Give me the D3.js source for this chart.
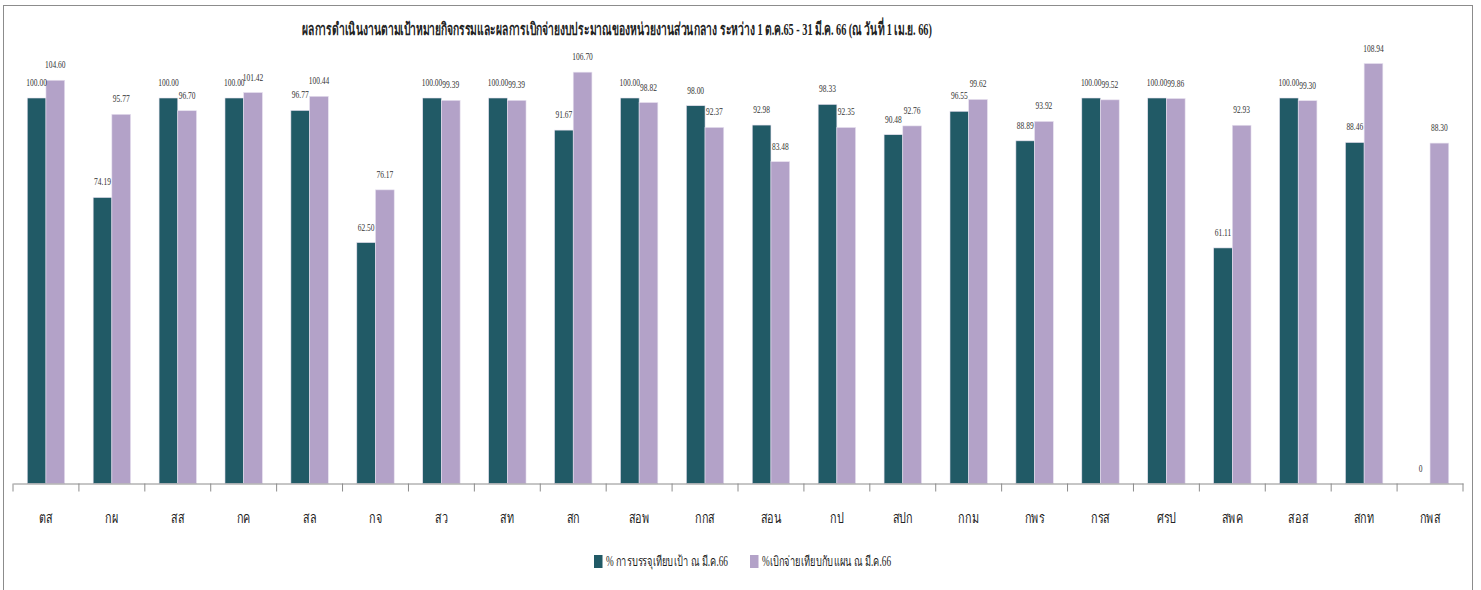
<!DOCTYPE html>
<html>
<head>
<meta charset="utf-8">
<script src="https://cdn.jsdelivr.net/npm/d3@7"></script>
<style>
  body { margin: 0; background: #fff; }
  text { font-family: "Liberation Serif", "Noto Sans", serif; fill: #222; }
</style>
</head>
<body>
<div id="chart"></div>
<script>
const categories = ["ตส", "กผ", "สส", "กค", "สล", "กจ", "สว", "สท", "สก", "สอพ", "กกส",
  "สอน", "กป", "สปก", "กกม", "กพร", "กรส", "ศรป", "สพค", "สอส", "สกท", "กพส"];
const recruit = [100.00, 74.19, 100.00, 100.00, 96.77, 62.50, 100.00, 100.00, 91.67, 100.00, 98.00,
  92.98, 98.33, 90.48, 96.55, 88.89, 100.00, 100.00, 61.11, 100.00, 88.46, 0];
const spend = [104.60, 95.77, 96.70, 101.42, 100.44, 76.17, 99.39, 99.39, 106.70, 98.82, 92.37,
  83.48, 92.35, 92.76, 99.62, 93.92, 99.52, 99.86, 92.93, 99.30, 108.94, 88.30];
const seriesNames = ["% การบรรจุเทียบเป้า ณ มี.ค.66", "%เบิกจ่ายเทียบกับแผน ณ มี.ค.66"];
const colors = ["#215A66", "#B3A2C8"];
const title = "ผลการดำเนินงานตามเป้าหมายกิจกรรมและผลการเบิกจ่ายงบประมาณของหน่วยงานส่วนกลาง ระหว่าง 1 ต.ค.65 - 31 มี.ค. 66 (ณ วันที่ 1 เม.ย. 66)";

const width = 1481, height = 590;
const sx = 0.72; // chart text is horizontally squeezed

const svg = d3.select("#chart").append("svg")
    .attr("width", width)
    .attr("height", height);

// outer frame
svg.append("rect")
    .attr("x", 3.5).attr("y", 5.5)
    .attr("width", 1469).attr("height", 620)
    .attr("fill", "none")
    .attr("stroke", "#8c8c8c");

const x0 = d3.scaleBand()
    .domain(categories)
    .range([13, 1463])
    .paddingInner(0)
    .paddingOuter(0);

const x1 = d3.scaleBand()
    .domain([0, 1])
    .range([x0.bandwidth() / 2 - 18.7, x0.bandwidth() / 2 + 18.7]);

const y = d3.scaleLinear()
    .domain([0, 100])
    .range([483.5, 98]);

function squeezed(sel, px, py, s) {
  return sel.attr("transform", `translate(${px},${py}) scale(${s},1)`);
}

// title
squeezed(svg.append("text"), 617, 35, 0.605)
    .attr("text-anchor", "middle")
    .style("font-size", "17px")
    .style("font-weight", "bold")
    .text(title);

const data = categories.map((c, i) => ({ cat: c, vals: [recruit[i], spend[i]] }));

const groups = svg.selectAll("g.cat")
    .data(data)
    .enter()
    .append("g")
    .attr("class", "cat")
    .attr("transform", d => `translate(${x0(d.cat)},0)`);

groups.selectAll("rect")
    .data(d => d.vals.map((v, k) => ({ k: k, v: v })))
    .enter()
    .append("rect")
    .attr("x", d => x1(d.k))
    .attr("width", x1.bandwidth())
    .attr("y", d => y(d.v))
    .attr("height", d => y(0) - y(d.v))
    .attr("fill", d => colors[d.k])
    .attr("stroke", "#e6e0ee")
    .attr("stroke-width", 0.6);

groups.selectAll("text.val")
    .data(d => d.vals.map((v, k) => ({ k: k, v: v })))
    .enter()
    .append("text")
    .attr("class", "val")
    .attr("text-anchor", "middle")
    .style("font-size", "11px")
    .style("fill", "#333")
    .attr("transform", d => `translate(${x1(d.k) + x1.bandwidth() / 2},${y(d.v) - 12}) scale(0.68,1)`)
    .text(d => d.v === 0 ? "0" : d.v.toFixed(2));

// x axis
const xAxis = d3.axisBottom(x0).tickSize(0).tickFormat("");
const ax = svg.append("g")
    .attr("transform", `translate(0,${y(0)})`)
    .call(xAxis);
ax.select(".domain").attr("stroke", "#8c8c8c");

svg.append("g")
    .selectAll("line")
    .data(categories.concat(["_end"]))
    .enter()
    .append("line")
    .attr("x1", d => d === "_end" ? x0.range()[1] : x0(d))
    .attr("x2", d => d === "_end" ? x0.range()[1] : x0(d))
    .attr("y1", y(0))
    .attr("y2", y(0) + 8)
    .attr("stroke", "#8c8c8c");

svg.append("g")
    .selectAll("text")
    .data(categories)
    .enter()
    .append("text")
    .attr("text-anchor", "middle")
    .style("font-size", "15px")
    .attr("transform", d => `translate(${x0(d) + x0.bandwidth() / 2},523) scale(${sx},1)`)
    .text(d => d);

// legend
const legendX = [594, 750];
const leg = svg.append("g")
    .selectAll("g")
    .data(seriesNames)
    .enter()
    .append("g")
    .attr("transform", (d, i) => `translate(${legendX[i]},555)`);

leg.append("rect")
    .attr("width", 8.5)
    .attr("height", 13)
    .attr("fill", (d, i) => colors[i]);

leg.append("text")
    .attr("transform", `translate(12,11) scale(0.66,1)`)
    .style("font-size", "14px")
    .text(d => d);
</script>
</body>
</html>
